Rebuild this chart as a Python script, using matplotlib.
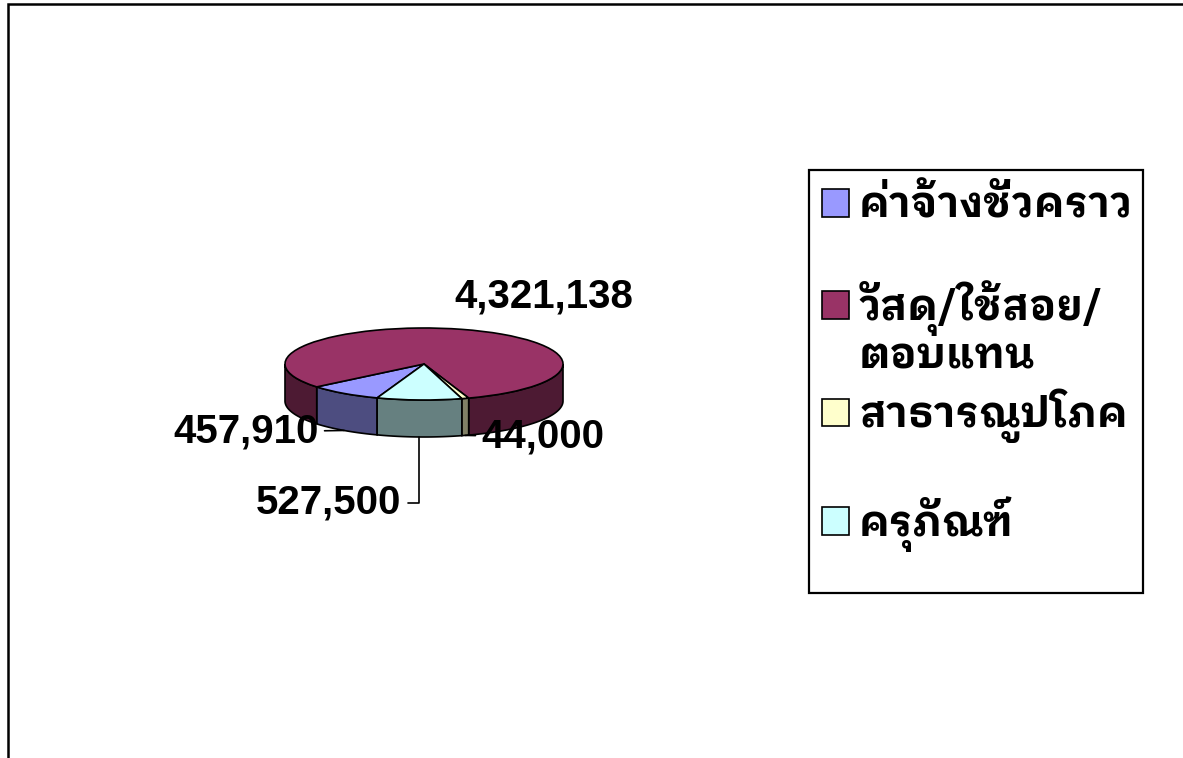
import matplotlib
matplotlib.use("Agg")
import numpy as np
import matplotlib.pyplot as plt
from matplotlib.patches import Polygon, Rectangle
from matplotlib.transforms import Affine2D

# ---- data ----
categories = ["ค่าจ้างชั่วคราว", "วัสดุ/ใช้สอย/", "สาธารณูปโภค", "ครุภัณฑ์"]
category2_second_line = "ตอบแทน"
values = [457910, 4321138, 44000, 527500]
value_labels = ["457,910", "4,321,138", "44,000", "527,500"]

top_colors = ["#9999FF", "#993366", "#FFFFCC", "#CCFFFF"]
side_colors = ["#4D4D80", "#4D1A33", "#808066", "#668080"]

W, H = 1183, 758
fig = plt.figure(figsize=(W / 100, H / 100), dpi=100)

# outer chart border (top and left edges visible)
fig.add_artist(Rectangle((8 / W, -0.2), 1.5, 1.2 - 4 / H, transform=fig.transFigure,
                         fill=False, lw=1.8, edgecolor="black"))

# pie axes: 1 data unit = 139 px, centre at (424, 364) px
cx, cy, R = 424, 364, 139
ax = fig.add_axes([(cx - 1.5 * R) / W, (H - cy - 1.5 * R) / H, 3 * R / W, 3 * R / H])
tilt = 36 / 139
depth = 37 / 139

wedges, _ = ax.pie(values, colors=top_colors, startangle=250.3, counterclock=False,
                   radius=1.0, wedgeprops=dict(edgecolor="black", linewidth=1.2))
ax.set_xlim(-1.5, 1.5)
ax.set_ylim(-1.5, 1.5)
ax.set_aspect("equal")
ax.axis("off")

squash = Affine2D().scale(1, tilt) + ax.transData
for w in wedges:
    w.set_transform(squash)
    w.set_zorder(3)

# side walls of the front half
for w, sc in zip(wedges, side_colors):
    t1, t2 = w.theta1, w.theta2
    for k in range(-2, 3):
        a = max(t1, 180 + 360 * k)
        b = min(t2, 360 + 360 * k)
        if b > a:
            t = np.radians(np.linspace(a, b, 100))
            xs = np.cos(t)
            ys = tilt * np.sin(t)
            pts = np.concatenate([np.column_stack([xs, ys]),
                                  np.column_stack([xs[::-1], ys[::-1] - depth])])
            ax.add_patch(Polygon(pts, closed=True, facecolor=sc, edgecolor="black",
                                 linewidth=1.2, zorder=2))

# data labels
num_font = dict(family="Liberation Sans", weight="bold", fontsize=29)
def px2d(px, py):
    return ((px - cx) / R, (cy - py) / R)

def bottom_anchor(w):
    m = np.radians((w.theta1 + w.theta2) / 2)
    return (np.cos(m), tilt * np.sin(m) - depth)

ax.annotate(value_labels[1], xy=px2d(544, 297), ha="center", va="center", **num_font,
            annotation_clip=False)
ax.annotate(value_labels[0], xy=bottom_anchor(wedges[0]), xytext=px2d(319, 432),
            ha="right", va="center", **num_font, annotation_clip=False,
            arrowprops=dict(arrowstyle="-", color="black", lw=1.2, shrinkA=2, shrinkB=0))
ax.annotate(value_labels[2], xy=bottom_anchor(wedges[2]), xytext=px2d(481, 437),
            ha="left", va="center", **num_font, annotation_clip=False,
            arrowprops=dict(arrowstyle="-", color="black", lw=1.2, shrinkA=2, shrinkB=0))
ax.annotate(value_labels[3], xy=bottom_anchor(wedges[3]), xytext=px2d(401, 503),
            ha="right", va="center", **num_font, annotation_clip=False,
            arrowprops=dict(arrowstyle="-", color="black", lw=1.2, shrinkA=3, shrinkB=0,
                            connectionstyle="angle,angleA=0,angleB=90,rad=0"))

# legend
thai = ["IBM Plex Sans Thai Looped", "DejaVu Sans"]
fsz = 30
leg = fig.legend(wedges, categories, loc="upper left",
                 bbox_to_anchor=(822 / W, 1 - 186 / H),
                 prop=dict(family=thai, weight="bold", size=fsz),
                 frameon=False,
                 handlelength=0.65, handleheight=0.65, handletextpad=0.24,
                 labelspacing=1.27, borderpad=0.0, borderaxespad=0)
# legend frame
fig.add_artist(Rectangle((809 / W, 1 - 593 / H), (1143 - 809) / W, (593 - 170) / H,
                         transform=fig.transFigure, fill=False, lw=1.6,
                         edgecolor="black", zorder=4))
fig.canvas.draw()
ax.annotate(category2_second_line, xy=(0, 0.5), xycoords=leg.get_texts()[1],
            xytext=(0, -35.3), textcoords="offset points", ha="left", va="center",
            family=thai, weight="bold", fontsize=fsz, annotation_clip=False, zorder=6)

fig.savefig("out.png", dpi=100)
